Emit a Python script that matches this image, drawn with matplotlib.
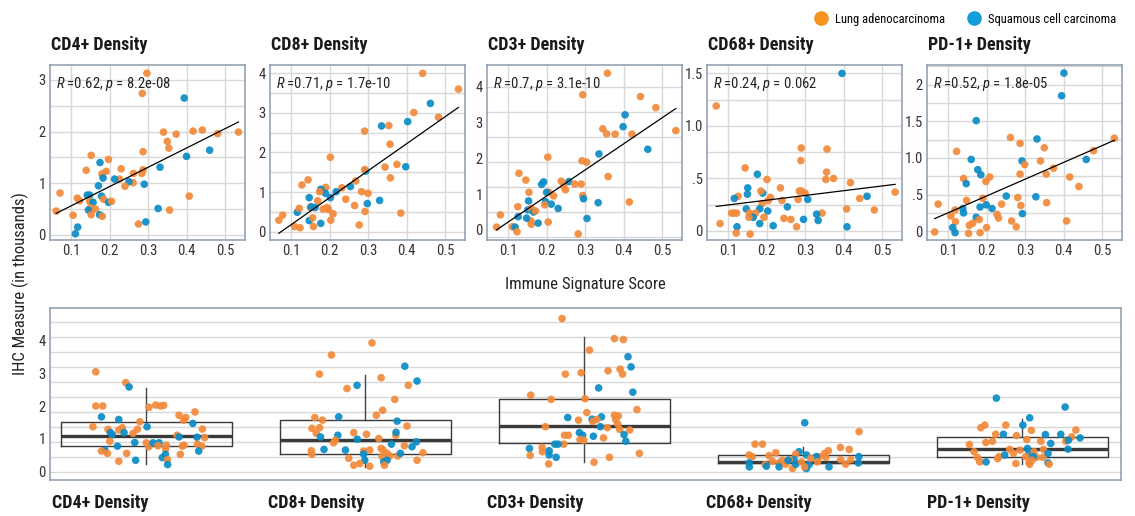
import numpy as np
import matplotlib
matplotlib.use('Agg')
import matplotlib.pyplot as plt
from matplotlib.lines import Line2D

plt.rcParams['font.family'] = ['Roboto Condensed', 'Roboto', 'DejaVu Sans']
plt.rcParams['mathtext.fontset'] = 'custom'
plt.rcParams['mathtext.it'] = 'Roboto Condensed:italic'
plt.rcParams['mathtext.rm'] = 'Roboto Condensed'

# ---------------- data ----------------
panels = ["CD4+ Density", "CD8+ Density", "CD3+ Density", "CD68+ Density", "PD-1+ Density"]
stats_text = ["=0.62, $\\it{p}$ = 8.2e-08", "=0.71, $\\it{p}$ = 1.7e-10", "=0.7, $\\it{p}$ = 3.1e-10",
              "=0.24, $\\it{p}$ = 0.062", "=0.52, $\\it{p}$ = 1.8e-05"]
legend_labels = ["Lung adenocarcinoma", "Squamous cell carcinoma"]

# L = lung adenocarcinoma, S = squamous cell carcinoma
cd4_score = [0.297, 0.285, 0.394, 0.535, 0.481, 0.441, 0.417, 0.373, 0.340, 0.350, 0.354, 0.460, 0.400, 0.287, 0.331,
             0.287, 0.284, 0.262, 0.261, 0.290, 0.250, 0.240, 0.226, 0.230, 0.213, 0.197, 0.191, 0.180, 0.183, 0.175,
             0.152, 0.139, 0.171, 0.071, 0.061, 0.105, 0.116, 0.122, 0.142, 0.148, 0.148, 0.157, 0.150, 0.145, 0.163,
             0.152, 0.174, 0.181, 0.179, 0.184, 0.197, 0.205, 0.117, 0.111, 0.275, 0.294, 0.326, 0.356, 0.407]
cd4_value = [3.13, 2.74, 2.65, 1.99, 1.96, 2.03, 2.01, 1.95, 1.99, 1.81, 1.68, 1.64, 1.52, 1.61, 1.31,
             1.26, 1.19, 1.19, 1.01, 0.98, 1.03, 0.94, 1.08, 1.28, 1.08, 1.46, 1.23, 1.18, 1.10, 1.40,
             1.54, 1.25, 0.95, 0.81, 0.46, 0.38, 0.71, 0.66, 0.77, 0.77, 0.65, 0.63, 0.52, 0.48, 0.50,
             0.39, 0.39, 0.36, 0.75, 0.69, 0.63, 0.65, 0.15, 0.02, 0.21, 0.25, 0.51, 0.48, 0.75]
cd4_type = "LLSLLLLLLL" "LSSLSLLLLS" "SLLLSLLLSS" "LLSLLLLLSS" "LSLSLLSLSL" "SLSSLSSLL"

cd8_score = [0.442, 0.535, 0.462, 0.419, 0.483, 0.403, 0.335, 0.354, 0.291, 0.357, 0.202, 0.375, 0.398, 0.344, 0.294,
             0.291, 0.358, 0.144, 0.128, 0.268, 0.254, 0.232, 0.217, 0.202, 0.190, 0.189, 0.177, 0.174, 0.242, 0.169,
             0.283, 0.300, 0.298, 0.330, 0.265, 0.292, 0.385, 0.150, 0.147, 0.152, 0.162, 0.193, 0.183, 0.197, 0.209,
             0.203, 0.116, 0.121, 0.078, 0.068, 0.147, 0.156, 0.158, 0.109, 0.123, 0.177, 0.277]
cd8_value = [4.00, 3.60, 3.24, 3.01, 2.89, 2.78, 2.67, 2.68, 2.54, 2.21, 1.88, 1.70, 1.64, 1.63, 1.53,
             1.57, 1.36, 1.31, 1.18, 1.28, 1.14, 1.11, 1.01, 0.86, 1.12, 0.97, 1.07, 1.01, 0.82, 0.78,
             1.01, 0.97, 0.71, 0.79, 0.66, 0.51, 0.47, 0.61, 0.86, 0.63, 0.61, 0.61, 0.57, 0.56, 0.45,
             0.29, 0.49, 0.59, 0.42, 0.29, 0.28, 0.35, 0.13, 0.13, 0.10, 0.21, 0.17]
cd8_type = "LLSLLSSLLL" "LLSLSLLLLL" "SLSSLSSLLL" "LLSSLLLLSS" "SLLLLLSLLL" "SLLLLSL"

cd3_score = [0.358, 0.294, 0.444, 0.484, 0.536, 0.404, 0.399, 0.346, 0.356, 0.378, 0.422, 0.463, 0.336, 0.203, 0.292,
             0.304, 0.128, 0.146, 0.238, 0.244, 0.249, 0.258, 0.273, 0.290, 0.187, 0.192, 0.206, 0.200, 0.154, 0.360,
             0.294, 0.296, 0.334, 0.415, 0.153, 0.218, 0.197, 0.212, 0.230, 0.195, 0.125, 0.080, 0.126, 0.151, 0.160,
             0.166, 0.171, 0.159, 0.160, 0.148, 0.178, 0.204, 0.305, 0.070, 0.111, 0.118, 0.123, 0.282]
cd3_value = [4.37, 3.77, 3.72, 3.41, 2.77, 3.21, 2.88, 2.82, 2.68, 2.67, 2.67, 2.25, 2.12, 2.03, 1.93,
             1.89, 1.58, 1.39, 1.36, 1.23, 1.12, 1.35, 1.28, 1.28, 1.27, 1.34, 1.05, 1.05, 1.05, 1.49,
             0.96, 0.87, 0.76, 0.78, 0.81, 0.95, 0.79, 0.72, 0.60, 0.70, 0.65, 0.42, 0.37, 0.56, 0.60,
             0.50, 0.53, 0.25, 0.16, 0.33, 0.19, 0.22, 0.32, 0.08, 0.09, 0.08, -0.05, -0.11]
cd3_type = "LLLLLSSLLL" "LSSLLLLLLL" "LSLLSSLSLL" "LSSLSLSSSL" "LLSSLSLLLS" "SLSLLSLL"

cd68_score = [0.396, 0.069, 0.290, 0.357, 0.289, 0.144, 0.176, 0.201, 0.356, 0.354, 0.374, 0.418, 0.151, 0.150, 0.190,
              0.185, 0.236, 0.285, 0.291, 0.300, 0.210, 0.188, 0.204, 0.126, 0.116, 0.240, 0.282, 0.307, 0.442, 0.461,
              0.534, 0.147, 0.182, 0.203, 0.115, 0.109, 0.122, 0.155, 0.171, 0.165, 0.154, 0.254, 0.344, 0.330, 0.334,
              0.296, 0.408, 0.480, 0.245, 0.263, 0.193, 0.182, 0.217, 0.123, 0.278, 0.409, 0.079, 0.121, 0.157]
cd68_value = [1.50, 1.19, 0.79, 0.78, 0.67, 0.60, 0.54, 0.49, 0.56, 0.49, 0.50, 0.46, 0.41, 0.35, 0.36,
              0.38, 0.41, 0.38, 0.38, 0.36, 0.32, 0.26, 0.29, 0.33, 0.31, 0.29, 0.30, 0.30, 0.31, 0.33,
              0.37, 0.21, 0.21, 0.19, 0.17, 0.17, 0.17, 0.17, 0.17, 0.13, 0.13, 0.23, 0.17, 0.16, 0.10,
              0.11, 0.21, 0.20, 0.12, 0.11, 0.13, 0.07, 0.05, 0.04, 0.04, 0.04, 0.07, -0.02, -0.03]
cd68_type = "SLLLLLSLLL" "LLSSSLLLLL" "LLLLSLLSLS" "LSSSLLLLLS" "LSLSSSLLLL" "LSSSLSLLL"

pd1_score = [0.401, 0.395, 0.173, 0.262, 0.331, 0.532, 0.287, 0.350, 0.122, 0.478, 0.160, 0.292, 0.459, 0.299, 0.340,
             0.374, 0.177, 0.185, 0.208, 0.287, 0.355, 0.416, 0.198, 0.140, 0.147, 0.440, 0.148, 0.190, 0.251, 0.328,
             0.281, 0.239, 0.356, 0.199, 0.289, 0.183, 0.214, 0.074, 0.118, 0.138, 0.140, 0.227, 0.231, 0.293, 0.107,
             0.119, 0.173, 0.181, 0.164, 0.155, 0.265, 0.408, 0.277, 0.200, 0.112, 0.118, 0.065, 0.153, 0.183]
pd1_value = [2.16, 1.85, 1.51, 1.28, 1.26, 1.27, 1.20, 1.14, 1.09, 1.10, 0.98, 0.96, 0.98, 0.91, 0.96,
             0.86, 0.84, 0.77, 0.74, 0.78, 0.78, 0.74, 0.68, 0.72, 0.65, 0.61, 0.42, 0.45, 0.48, 0.47,
             0.46, 0.37, 0.39, 0.36, 0.35, 0.33, 0.31, 0.37, 0.29, 0.31, 0.25, 0.23, 0.18, 0.24, 0.21,
             0.13, 0.19, 0.16, 0.11, 0.08, 0.14, 0.14, 0.06, 0.05, 0.05, -0.02, -0.01, -0.03, -0.02]
pd1_type = "SSSLSLLLLL" "SSSLLLSSLL" "LLLLSLLLSS" "LLLSLSSLLS" "SLLSLLSLLL" "LLLLSSLLL"

# jittered strip data for the lower panel (offset from category centre, value, type)
strip_cd4_dx = [-0.231, -0.231, -0.199, -0.094, -0.079, -0.205, -0.126, -0.244, -0.175, -0.164, -0.155, -0.126,
                -0.110, -0.102, -0.061, -0.041, -0.030, 0.003, 0.012, 0.043, 0.064, 0.079, -0.167, -0.132,
                -0.190, -0.205, -0.178, -0.090, -0.126, -0.053, -0.049, 0.000, 0.011, 0.030, 0.058, 0.053,
                0.091, 0.088, 0.073, 0.087, 0.096, 0.097, 0.140, 0.149, 0.149, 0.180, 0.170, 0.222,
                0.212, 0.256, 0.231, 0.266, 0.233, 0.172, 0.164, 0.253, 0.239, 0.155]
strip_cd4_y = [3.04, 2.00, 2.00, 2.71, 2.58, 1.67, 1.59, 1.37, 1.29, 1.19, 1.13, 1.27,
               1.34, 1.19, 1.17, 1.29, 1.52, 1.37, 1.96, 2.03, 2.00, 2.02, 0.93, 0.78,
               0.66, 0.63, 0.56, 0.56, 0.32, 0.89, 0.35, 0.88, 0.76, 0.88, 0.88, 0.79,
               0.81, 0.69, 0.43, 0.53, 0.37, 0.22, 1.11, 1.06, 1.72, 1.65, 1.57, 1.82,
               1.47, 1.30, 1.05, 1.04, 0.84, 0.81, 0.78, 0.78, 0.63, 0.53]
strip_cd4_type = "LLLLSSSLLS" "SLLSLLLSLL" "LLLSSLLLLS" "SLLSSLLLSS" "LSLSLLLLSL" "SLLLLLSL"

strip_cd8_dx = [0.030, -0.155, -0.210, 0.180, 0.072, -0.038, -0.084, 0.236, 0.196, 0.134, 0.079, 0.050,
                -0.231, -0.196, -0.122, 0.145, 0.190, -0.244, -0.209, -0.224, -0.205, -0.126, -0.053, 0.005,
                0.061, -0.037, 0.139, 0.140, -0.145, -0.137, 0.233, 0.119, 0.178, 0.213, -0.247, -0.244,
                -0.189, -0.091, -0.008, 0.020, -0.008, -0.003, 0.072, 0.081, 0.099, 0.111, 0.076, 0.148,
                0.160, 0.084, 0.099, 0.087, -0.076, -0.053, -0.026, 0.020, 0.263, 0.236]
strip_cd8_y = [3.92, 3.55, 2.97, 3.21, 2.86, 2.63, 2.53, 2.76, 2.63, 2.20, 1.87, 1.72,
               1.65, 1.57, 1.67, 1.54, 1.39, 1.32, 1.34, 1.17, 1.06, 1.11, 1.19, 1.14,
               1.01, 0.99, 1.11, 1.20, 0.88, 0.96, 0.91, 0.84, 0.79, 0.76, 0.64, 0.53,
               0.68, 0.66, 0.63, 0.66, 0.54, 0.35, 0.71, 0.66, 0.56, 0.48, 0.46, 0.48,
               0.56, 0.30, 0.35, 0.20, 0.41, 0.20, 0.25, 0.17, 0.58, 0.35]
strip_cd8_type = "LLLSLSLSLL" "LLLLSSLLLL" "SSLLLSLSLL" "SSLSLLSSLL" "SSLLLLLLSS" "SLLLLLLL"

strip_cd3_dx = [-0.102, 0.137, 0.178, 0.023, 0.199, 0.213, -0.087, -0.015, 0.108, 0.163, 0.174, 0.065,
                0.221, -0.245, -0.152, 0.003, 0.240, 0.011, -0.076, -0.027, 0.035, 0.038, 0.078, 0.056,
                0.137, 0.155, 0.143, 0.152, 0.161, 0.207, 0.073, 0.105, -0.178, -0.023, -0.008, 0.041,
                0.087, 0.181, 0.189, -0.091, -0.073, -0.020, -0.003, -0.094, -0.135, -0.120, -0.251, -0.248,
                -0.193, -0.192, -0.161, -0.161, -0.129, -0.163, 0.044, 0.114, 0.251]
strip_cd3_y = [4.66, 4.05, 4.02, 3.70, 3.50, 3.19, 2.97, 3.01, 3.07, 3.12, 2.97, 2.55,
               2.42, 2.33, 2.20, 2.22, 1.89, 1.80, 1.65, 1.57, 1.60, 1.53, 1.67, 1.59,
               1.72, 1.70, 1.59, 1.45, 1.29, 1.27, 1.37, 1.34, 1.37, 1.19, 1.11, 1.08,
               1.03, 1.13, 0.93, 1.11, 1.11, 0.98, 0.96, 0.84, 0.84, 0.84, 0.71, 0.50,
               0.74, 0.61, 0.64, 0.51, 0.44, 0.24, 0.29, 0.44, 0.56]
strip_cd3_type = "LLLLSSLLLL" "LSSLLLLLSL" "SLSLLLLLLL" "SLLSSSLSSL" "LLLLSSSLLL" "SSSLLLL"

strip_cd68_dx = [0.006, 0.254, -0.221, -0.187, 0.169, 0.209, -0.020, -0.248, -0.233, -0.157, -0.126,
                 -0.035, 0.014, 0.072, 0.059, 0.097, 0.114, 0.102, 0.253, 0.170, 0.216, 0.251,
                 0.193, -0.248, -0.247, -0.175, -0.169, -0.111, -0.096, -0.111, -0.081, -0.050,
                 -0.043, -0.035, -0.008, 0.014, 0.026, 0.033, 0.117, 0.064, -0.065, -0.142, 0.005, -0.070]
strip_cd68_y = [1.49, 1.22, 0.84, 0.84, 0.74, 0.68, 0.61, 0.51, 0.46, 0.49, 0.58,
                0.54, 0.51, 0.46, 0.46, 0.56, 0.64, 0.44, 0.46, 0.37, 0.37, 0.27,
                0.23, 0.27, 0.15, 0.22, 0.17, 0.27, 0.35, 0.15, 0.23, 0.10,
                0.37, 0.23, 0.30, 0.10, 0.22, 0.41, 0.15, 0.30, 0.37, 0.32, 0.15, 0.35]
strip_cd68_type = "SLLLLLSLLL" "LLSLSLLLSL" "LSLSSLSLLS" "LLSSLSSLSL" "LLLS"

strip_pd1_dx = [-0.119, 0.195, 0.033, -0.190, -0.172, -0.076, 0.002, 0.041, 0.244, -0.122, -0.087, -0.027,
                0.105, 0.175, -0.167, -0.137, 0.020, 0.084, 0.129, 0.198, 0.225, 0.263, 0.210, 0.208,
                -0.242, -0.221, -0.205, -0.195, -0.166, -0.107, -0.113, -0.081, -0.058, -0.041, -0.011, 0.023,
                0.030, 0.015, 0.053, 0.064, 0.049, -0.030, 0.030, 0.043, 0.096, 0.094, 0.117, 0.117,
                0.122, 0.033]
strip_pd1_y = [2.24, 1.97, 1.64, 1.34, 1.42, 1.42, 1.42, 1.26, 1.27, 1.14, 1.14, 1.10,
               1.13, 1.14, 0.89, 0.93, 0.98, 0.93, 0.86, 0.93, 1.06, 1.03, 0.96, 0.69,
               0.83, 0.61, 0.43, 0.30, 0.30, 0.46, 0.40, 0.51, 0.68, 0.56, 0.66, 0.71,
               0.58, 0.46, 0.61, 0.44, 0.46, 0.25, 0.28, 0.35, 0.68, 0.44, 0.56, 0.27,
               0.23, 0.23]
strip_pd1_type = "SSSLLLSLLL" "SLSSLLLLSL" "LSSSLLLLSL" "LSLLLSSLLL" "SLLLLLSSLL"

# box summary
box_low = [0.25, 0.15, 0.29, 0.05, 0.25]
box_q1 = [0.78, 0.53, 0.86, 0.255, 0.44]
box_med = [1.085, 0.98, 1.40, 0.30, 0.68]
box_q3 = [1.52, 1.57, 2.21, 0.51, 1.06]
box_high = [2.56, 2.94, 4.10, 0.76, 1.62]

# ---------------- style ----------------
ORANGE = '#F28A3A'
BLUE = '#0A8CC6'
SPINE = '#8b9bad'
GRID = '#d8d8d8'
W, H = 1135, 516


def px_axes(fig, left, top, right, bottom):
    return fig.add_axes([left / W, 1 - bottom / H, (right - left) / W, (bottom - top) / H])


def style_axes(ax):
    for s in ax.spines.values():
        s.set_color(SPINE)
        s.set_linewidth(1.1)
    ax.tick_params(length=0, labelsize=10.5, colors='#333333', pad=3)
    ax.set_axisbelow(True)


def colors_for(types):
    return [ORANGE if t == 'L' else BLUE for t in types]


fig = plt.figure(figsize=(W / 100, H / 100), dpi=100)

scatter_sets = [(cd4_score, cd4_value, cd4_type), (cd8_score, cd8_value, cd8_type),
                (cd3_score, cd3_value, cd3_type), (cd68_score, cd68_value, cd68_type),
                (pd1_score, pd1_value, pd1_type)]
lefts = [50, 270, 487, 707, 927]
ylims = [(-0.10, 3.29), (-0.21, 4.21), (-0.28, 4.60), (-0.086, 1.58), (-0.12, 2.27)]
yticks = [[0, 1, 2, 3], [0, 1, 2, 3, 4], [0, 1, 2, 3, 4], [0, 0.5, 1.0, 1.5], [0, 0.5, 1.0, 1.5, 2]]
ylabels = [["0", "1", "2", "3"], ["0", "1", "2", "3", "4"], ["0", "1", "2", "3", "4"],
           ["0", ".5", "1.0", "1.5"], ["0", ".5", "1.0", "1.5", "2"]]
grid_lines = [np.arange(0, 3.3, 0.5), np.arange(0, 4.3, 0.5), np.arange(-0.2, 4.6, 0.7),
              np.arange(0, 1.6, 0.25), np.arange(0, 2.3, 0.25)]

for i, (sx, sy, st) in enumerate(scatter_sets):
    ax = px_axes(fig, lefts[i], 65, lefts[i] + 195, 240)
    style_axes(ax)
    ax.set_xlim(0.045, 0.552)
    ax.set_ylim(*ylims[i])
    ax.set_xticks([0.1, 0.2, 0.3, 0.4, 0.5])
    ax.set_xticklabels(["0.1", "0.2", "0.3", "0.4", "0.5"])
    ax.set_yticks(yticks[i])
    ax.set_yticklabels(ylabels[i])
    ax.grid(axis='x', color=GRID, lw=1)
    for g in grid_lines[i]:
        ax.axhline(g, color=GRID, lw=1, zorder=0)
    ax.scatter(sx, sy, c=colors_for(st), s=30, edgecolors='none', alpha=0.92, zorder=3)
    xs = np.array(sx)
    slope, icpt = np.polyfit(xs, np.array(sy), 1)
    xx = np.array([xs.min(), xs.max()])
    ax.plot(xx, slope * xx + icpt, color='black', lw=0.9, zorder=4)
    ax.text(0.03, 0.89, "$\\it{R}$ " + stats_text[i], transform=ax.transAxes, fontsize=10.5,
            va='center', ha='left', color='#222222', zorder=5)
    fig.text((lefts[i] + 1) / W, 1 - 45 / H, panels[i], fontsize=13, fontweight='bold',
             ha='left', va='center', color='#1a1a1a')

fig.text(585 / W, 1 - 285 / H, "Immune Signature Score", fontsize=12, ha='center', va='center',
         color='#222222')
fig.text(20 / W, 1 - 284 / H, "IHC Measure (in thousands)", fontsize=12, rotation=90,
         ha='center', va='center', color='#222222')

# ---------------- lower panel ----------------
axb = px_axes(fig, 50, 308, 1121, 480)
style_axes(axb)
axb.set_xlim(-0.44, 4.45)
axb.set_ylim(-0.25, 4.98)
axb.set_xticks([])
axb.set_yticks([0, 1, 2, 3, 4])
for g in np.arange(0, 4.9, 0.456):
    axb.axhline(g, color=GRID, lw=1, zorder=0)

stats = []
for k in range(5):
    stats.append(dict(whislo=box_low[k], q1=box_q1[k], med=box_med[k], q3=box_q3[k],
                      whishi=box_high[k], fliers=[]))
box_w = 0.78
axb.bxp(stats, positions=range(5), widths=box_w, showcaps=False, showfliers=False,
        boxprops=dict(color='#3a3a3a', lw=1.0),
        whiskerprops=dict(color='#444444', lw=1.0),
        medianprops=dict(color='#3a3a3a', lw=2.4), manage_ticks=False, zorder=2)
axb.hlines(box_med, np.arange(5) - box_w / 2 + 0.003, np.arange(5) + box_w / 2 - 0.003,
           color='#e4e4e4', lw=0.9, zorder=2)

strips = [(strip_cd4_dx, strip_cd4_y, strip_cd4_type), (strip_cd8_dx, strip_cd8_y, strip_cd8_type),
          (strip_cd3_dx, strip_cd3_y, strip_cd3_type), (strip_cd68_dx, strip_cd68_y, strip_cd68_type),
          (strip_pd1_dx, strip_pd1_y, strip_pd1_type)]
for k, (dx, yy, tt) in enumerate(strips):
    axb.scatter(k + np.array(dx), yy, c=colors_for(tt), s=30, edgecolors='none', alpha=0.92, zorder=3)

bottom_lefts = [52, 268, 487, 706, 927]
for k in range(5):
    fig.text(bottom_lefts[k] / W, 1 - 503 / H, panels[k], fontsize=13, fontweight='bold',
             ha='left', va='center', color='#1a1a1a')

handles = [Line2D([], [], marker='o', ls='none', color='#F7931E', markersize=9.5),
           Line2D([], [], marker='o', ls='none', color='#129ED8', markersize=9.5)]
fig.legend(handles, legend_labels, loc='center right', bbox_to_anchor=(1122 / W, 1 - 19 / H), ncol=2,
           frameon=False, fontsize=9, handletextpad=0.1, columnspacing=1.3, borderpad=0)

fig.savefig('out.png', dpi=100)
